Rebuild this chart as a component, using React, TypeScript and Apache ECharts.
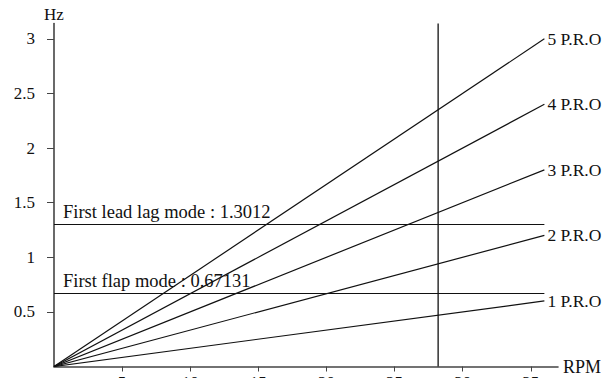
import React, { useEffect, useRef } from "react";
import * as echarts from "echarts";

// Data
const proOrders = [1, 2, 3, 4, 5];
const proNames = ["1 P.R.O", "2 P.R.O", "3 P.R.O", "4 P.R.O", "5 P.R.O"];
const rpmRange = [0, 36];
const leadLagMode = 1.3012;
const flapMode = 0.67131;
const ratedRpm = 28.2;
const xTicks = [5, 10, 15, 20, 25, 30, 35];
const yTicks = [0.5, 1, 1.5, 2, 2.5, 3];
const modeLabels = ["First lead lag mode : 1.3012", "First flap mode : 0.67131"];

const FONT = "'Liberation Serif', 'Times New Roman', serif";
const INK = "#111";

export default function App() {
  const ref = useRef<HTMLDivElement>(null);
  useEffect(() => {
    if (!ref.current) return;
    const chart = echarts.init(ref.current, undefined, { renderer: "svg" });
    const yMax = 3.14;
    const xMax = 37;

    const proSeries = proOrders.map((n, i) => ({
      type: "line",
      name: proNames[i],
      data: rpmRange.map((r) => [r, (n * r) / 60]),
      showSymbol: false,
      symbol: "none",
      lineStyle: { color: INK, width: 1.2 },
      endLabel: {
        show: true,
        formatter: "{a}",
        distance: 3,
        fontFamily: FONT,
        fontSize: 17.5,
        color: INK,
      },
    }));

    const modeLine = (v: number, text: string) => ({
      type: "line",
      data: [],
      markLine: {
        silent: true,
        symbol: ["none", "none"],
        lineStyle: { type: "solid", color: INK, width: 1.2 },
        label: {
          show: true,
          position: "insideStartTop",
          formatter: text,
          fontFamily: FONT,
          fontSize: 18.5,
          color: INK,
          distance: [9, 3],
        },
        data: [[{ coord: [rpmRange[0], v] }, { coord: [rpmRange[1], v] }]],
      },
    });

    chart.setOption({
      animation: false,
      grid: {
        left: 54,
        right: 57,
        top: 23.5,
        bottom: 11.5,
        containLabel: false,
        outerBoundsMode: "none",
      },
      xAxis: {
        type: "value",
        min: 0,
        max: xMax,
        name: "RPM",
        nameLocation: "end",
        nameGap: 5,
        nameTextStyle: { fontFamily: FONT, fontSize: 18, color: INK },
        axisLine: { lineStyle: { color: "#444", width: 1.6 } },
        axisTick: { show: true, length: 5, customValues: xTicks, lineStyle: { color: "#444" } },
        axisLabel: { customValues: xTicks, margin: 7, fontFamily: FONT, fontSize: 17, color: INK },
        splitLine: { show: false },
      },
      yAxis: {
        type: "value",
        min: 0,
        max: yMax,
        name: "Hz",
        nameLocation: "end",
        nameGap: 1,
        nameTextStyle: { fontFamily: FONT, fontSize: 17, color: INK, align: "center" },
        axisLine: { show: true, lineStyle: { color: "#444", width: 1.6 } },
        axisTick: { show: true, length: 7, customValues: yTicks, lineStyle: { color: "#444" } },
        axisLabel: { customValues: yTicks, margin: 19, fontFamily: FONT, fontSize: 17, color: INK },
        splitLine: { show: false },
      },
      series: [
        ...proSeries,
        modeLine(leadLagMode, modeLabels[0]),
        modeLine(flapMode, modeLabels[1]),
        {
          type: "line",
          data: [
            [ratedRpm, 0],
            [ratedRpm, yMax],
          ],
          showSymbol: false,
          symbol: "none",
          lineStyle: { color: INK, width: 1.3 },
        },
      ],
    });
    return () => chart.dispose();
  }, []);
  return (
    <div
      ref={ref}
      style={{ position: "fixed", left: 0, top: 0, width: 615, height: 378, background: "#fff" }}
    />
  );
}
